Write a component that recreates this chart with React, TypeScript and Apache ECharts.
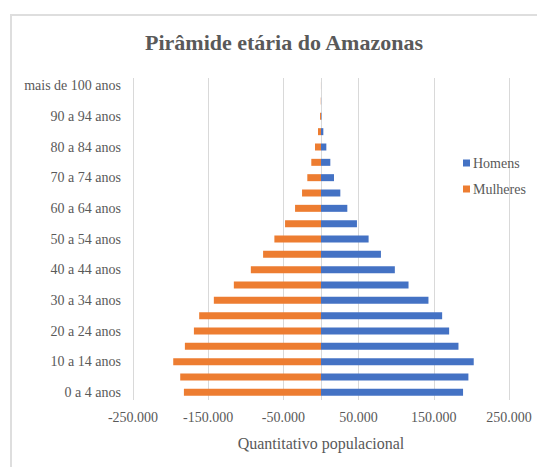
import React, { useEffect, useRef } from "react";
import * as echarts from "echarts";

const categories = [
  "0 a 4 anos", "5 a 9 anos", "10 a 14 anos", "15 a 19 anos", "20 a 24 anos",
  "25 a 29 anos", "30 a 34 anos", "35 a 39 anos", "40 a 44 anos", "45 a 49 anos",
  "50 a 54 anos", "55 a 59 anos", "60 a 64 anos", "65 a 69 anos", "70 a 74 anos",
  "75 a 79 anos", "80 a 84 anos", "85 a 89 anos", "90 a 94 anos", "95 a 99 anos",
  "mais de 100 anos",
];

const homens = [
  188900, 196000, 203100, 182800, 170400, 161100, 142900, 116400, 98200, 79700,
  63300, 47800, 35000, 25700, 17300, 12400, 7100, 3100, 600, 150, 30,
];

const mulheres = [
  182300, 187200, 196500, 181000, 169000, 162000, 142500, 115900, 93300, 77000,
  62000, 47800, 34500, 25200, 18200, 12900, 8000, 4000, 1300, 300, 60,
];

const xMin = -250000;
const xMax = 250000;
const xInterval = 100000;

const FONT = "'Liberation Serif', serif";
const TEXT = "#595959";
const GRID = "#d9d9d9";

function fmt(v: number): string {
  const s = String(Math.abs(v)).replace(/\B(?=(\d{3})+(?!\d))/g, ".");
  return (v < 0 ? "-" : "") + s;
}

export default function App() {
  const ref = useRef<HTMLDivElement>(null);

  useEffect(() => {
    if (!ref.current) return;
    const chart = echarts.init(ref.current, null, { renderer: "svg" });
    chart.setOption({
      animation: false,
      backgroundColor: "#ffffff",
      graphic: [
        {
          type: "rect",
          shape: { x: 11, y: 15, width: 600, height: 500 },
          style: { fill: "none", stroke: "#dedede", lineWidth: 2 },
          silent: true,
          z: 0,
        },
      ],
      title: {
        text: "Pirâmide etária do Amazonas",
        left: 279,
        top: 26,
        textAlign: "center",
        textStyle: { fontFamily: FONT, fontSize: 22, fontWeight: "bold", color: TEXT },
      },
      legend: {
        orient: "vertical",
        left: 458,
        top: 151,
        itemWidth: 7,
        itemHeight: 7,
        itemGap: 12,
        icon: "rect",
        data: ["Homens", "Mulheres"],
        textStyle: { fontFamily: FONT, fontSize: 14, color: TEXT, padding: [0, 0, 0, -2] },
      },
      grid: { left: 133, right: 28, top: 78, bottom: 67, containLabel: false },
      xAxis: {
        type: "value",
        min: xMin,
        max: xMax,
        interval: xInterval,
        name: "Quantitativo populacional",
        nameLocation: "middle",
        nameGap: 35,
        nameTextStyle: { fontFamily: FONT, fontSize: 16, color: TEXT },
        axisLine: { show: false },
        axisTick: { show: false },
        axisLabel: {
          formatter: (v: number) => fmt(v),
          fontFamily: FONT,
          fontSize: 14,
          color: TEXT,
          margin: 10,
        },
        splitLine: { show: true, lineStyle: { color: GRID, width: 1 } },
      },
      yAxis: {
        type: "category",
        data: categories,
        axisLine: { show: false, onZero: false },
        axisTick: { show: false },
        axisLabel: {
          interval: 1,
          fontFamily: FONT,
          fontSize: 14,
          color: TEXT,
          margin: 12,
        },
        splitLine: { show: false },
      },
      series: [
        {
          name: "Homens",
          type: "bar",
          stack: "total",
          barWidth: 7,
          data: homens,
          itemStyle: { color: "#4472c4" },
          markLine: {
            silent: true,
            symbol: "none",
            label: { show: false },
            lineStyle: { color: GRID, width: 1, type: "solid" },
            data: [{ xAxis: 0 }],
            z: 1,
          },
        },
        {
          name: "Mulheres",
          type: "bar",
          stack: "total",
          barWidth: 7,
          data: mulheres.map((v) => -v),
          itemStyle: { color: "#ed7d31" },
        },
      ],
    });
    return () => chart.dispose();
  }, []);

  return (
    <div
      ref={ref}
      style={{ position: "fixed", left: 0, top: 0, width: 537, height: 467, background: "#fff" }}
    />
  );
}
